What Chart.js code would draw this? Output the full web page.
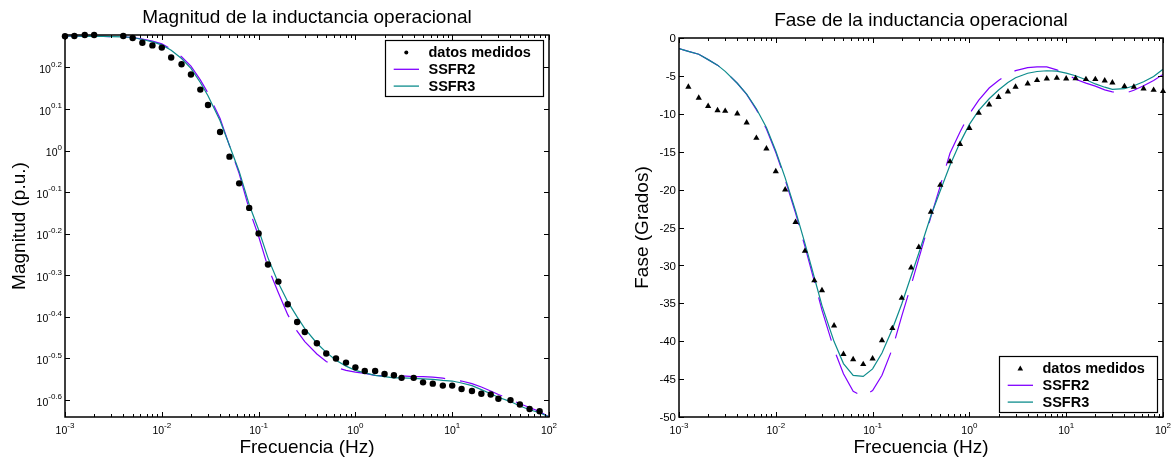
<!DOCTYPE html>
<html>
<head>
<meta charset="utf-8">
<script src="https://cdn.jsdelivr.net/npm/chart.js@4/dist/chart.umd.min.js"></script>
<style>
  html, body { margin: 0; padding: 0; background: #fff; }
  #wrap { position: relative; width: 1174px; height: 459px; }
  canvas { position: absolute; top: 0; }
  #cMag { left: 0; }
  #cFase { left: 587px; }
</style>
</head>
<body>
<div id="wrap">
  <canvas id="cMag" width="587" height="459"></canvas>
  <canvas id="cFase" width="587" height="459"></canvas>
</div>
<script>
// frecuencias (Hz)
var frecuencia = [0.001, 0.00125, 0.0016, 0.002, 0.0025, 0.003, 0.004, 0.005, 0.0063, 0.008,
  0.01, 0.0125, 0.016, 0.02, 0.025, 0.03, 0.04, 0.05, 0.063, 0.08,
  0.1, 0.125, 0.16, 0.2, 0.25, 0.3, 0.4, 0.5, 0.63, 0.8,
  1, 1.25, 1.6, 2, 2.5, 3, 4, 5, 6.3, 8,
  10, 12.5, 16, 20, 25, 30, 40, 50, 63, 80, 100];

// magnitud (p.u.)
var magMedida = [1.884, 1.886, 1.897, 1.897, null, null, 1.886, 1.865, 1.818, 1.791,
  1.769, 1.675, 1.613, 1.524, 1.402, 1.287, 1.108, 0.967, 0.834, 0.728,
  0.632, 0.532, 0.484, 0.427, 0.387, 0.366, 0.344, 0.325, 0.316, 0.309,
  0.301, 0.295, 0.295, 0.290, 0.288, 0.284, 0.284, 0.277, 0.275, 0.272,
  0.272, 0.267, 0.264, 0.260, 0.259, 0.253, 0.251, 0.245, 0.239, 0.236, null];
var magSSFR2 = [1.884, 1.884, 1.883, 1.883, 1.882, 1.880, 1.877, 1.871, 1.854, 1.833,
  1.806, 1.756, 1.681, 1.597, 1.479, 1.375, 1.195, 1.028, 0.880, 0.722,
  0.622, 0.524, 0.455, 0.403, 0.368, 0.347, 0.324, 0.311, 0.301, 0.296,
  0.293, 0.291, 0.288, 0.287, 0.287, 0.287, 0.286, 0.286, 0.285, 0.2835,
  0.281, 0.279, 0.275, 0.270, 0.264, 0.259, 0.252, 0.246, 0.241, 0.2355, 0.2286];
var magSSFR3 = [1.884, 1.884, 1.883, 1.883, 1.882, 1.880, 1.877, 1.871, 1.850, 1.826,
  1.796, 1.744, 1.665, 1.577, 1.458, 1.355, 1.180, 1.029, 0.891, 0.741,
  0.645, 0.552, 0.480, 0.433, 0.398, 0.373, 0.344, 0.327, 0.313, 0.303,
  0.296, 0.292, 0.288, 0.286, 0.284, 0.284, 0.283, 0.2825, 0.2815, 0.280,
  0.279, 0.276, 0.272, 0.266, 0.260, 0.255, 0.249, 0.243, 0.238, 0.234, 0.2286];

// fase (grados)
var faseMedida = [null, -6.46, -7.9, -9.0, -9.55, -9.63, -9.98, -11.17, -13.2, -14.6,
  -17.6, -20.0, -24.3, -28.1, -32.0, -33.3, -37.95, -41.7, -42.4, -43.05,
  -42.3, -39.9, -38.3, -34.3, -30.3, -27.6, -22.95, -19.4, -16.3, -14.0,
  -11.9, -9.9, -8.8, -7.8, -7.08, -6.46, -6.03, -5.58, -5.37, -5.28,
  -5.37, -5.32, -5.45, -5.45, -5.63, -5.9, -6.37, -6.46, -6.69, -6.86, -7.03];
var faseSSFR2 = [-1.41, -1.76, -2.15, -2.85, -3.58, -4.4, -5.97, -7.45, -9.45, -12.0,
  -15.1, -18.7, -23.1, -27.5, -32.1, -35.9, -41.1, -44.3, -46.6, -47.3,
  -46.5, -44.5, -41.0, -36.7, -32.6, -29.1, -23.6, -19.5, -15.2, -12.4,
  -10.0, -8.2, -6.6, -5.6, -4.8, -4.3, -3.9, -3.8, -3.8, -4.2,
  -4.7, -5.45, -5.95, -6.35, -6.85, -7.1, -7.3, -6.9, -6.3, -5.6, -4.8];
var faseSSFR3 = [-1.41, -1.76, -2.15, -2.85, -3.58, -4.4, -5.97, -7.4, -9.33, -11.8,
  -14.9, -18.46, -22.83, -27.09, -31.6, -35.3, -40.05, -42.95, -44.5, -44.65,
  -43.65, -41.55, -38.4, -35.1, -31.4, -28.4, -23.45, -20.15, -16.8, -13.8,
  -11.4, -9.55, -8.02, -6.86, -5.87, -5.24, -4.65, -4.42, -4.32, -4.38,
  -4.63, -4.98, -5.5, -6.06, -6.49, -6.77, -6.69, -6.3, -5.77, -5.08, -4.13];

// marcas de los ejes
var decadas = [0.001, 0.01, 0.1, 1, 10, 100];
var expDecadas = ['-3', '-2', '-1', '0', '1', '2'];
var expMag = ['0.2', '0.1', '0', '-0.1', '-0.2', '-0.3', '-0.4', '-0.5', '-0.6'];
var ticksFase = [0, -5, -10, -15, -20, -25, -30, -35, -40, -45, -50];

var morado = '#8000ff';
var verde = '#0d8c8c';
var fuente = '"Liberation Sans", Arial, Helvetica, sans-serif';
Chart.defaults.font.family = fuente;
Chart.defaults.color = '#000';

function puntos(ys) {
  var out = [];
  for (var i = 0; i < frecuencia.length; i++) {
    if (ys[i] !== null) out.push({ x: frecuencia[i], y: ys[i] });
  }
  return out;
}

function ticksX() {
  var t = [];
  for (var i = 0; i < decadas.length; i++) {
    t.push({ value: decadas[i], major: true, exp: expDecadas[i] });
    if (i < decadas.length - 1) {
      for (var m = 2; m <= 9; m++) t.push({ value: decadas[i] * m, major: false });
    }
  }
  return t;
}

function potencia(ctx, exp, x, yb, centrado) {
  ctx.font = '10.5px ' + fuente;
  var w1 = ctx.measureText('10').width;
  ctx.font = '8px ' + fuente;
  var w2 = ctx.measureText(exp).width;
  var x0 = centrado ? x - (w1 + w2) / 2 : x - w1 - w2;
  ctx.textAlign = 'left';
  ctx.textBaseline = 'alphabetic';
  ctx.font = '10.5px ' + fuente;
  ctx.fillText('10', x0, yb);
  ctx.font = '8px ' + fuente;
  ctx.fillText(exp, x0 + w1, yb - 6.3);
}

function marcador(ctx, tipo, x, y, r) {
  ctx.beginPath();
  if (tipo === 'triangle') {
    ctx.moveTo(x, y - r * 1.1);
    ctx.lineTo(x + r, y + r * 0.7);
    ctx.lineTo(x - r, y + r * 0.7);
    ctx.closePath();
  } else {
    ctx.arc(x, y, r, 0, Math.PI * 2);
  }
  ctx.fill();
}

function leyenda(ctx, chart, op) {
  var a = chart.chartArea, w = 158, h = 56;
  var x0 = Math.round(a.right - 6.5 - w);
  var y0 = Math.round(op.leyenda === 'arriba' ? a.top + 5 : a.bottom - 5 - h);
  ctx.fillStyle = '#fff';
  ctx.fillRect(x0, y0, w, h);
  ctx.strokeStyle = '#000';
  ctx.lineWidth = 1.2;
  ctx.strokeRect(x0 + 0.5, y0 + 0.5, w, h);
  chart.data.datasets.forEach(function(ds, i) {
    var yy = y0 + 12.5 + i * 16.8;
    if (ds.showLine) {
      ctx.strokeStyle = ds.borderColor;
      ctx.lineWidth = 1.3;
      ctx.setLineDash([]);
      ctx.beginPath();
      ctx.moveTo(x0 + 8.7, yy);
      ctx.lineTo(x0 + 34, yy);
      ctx.stroke();
    } else {
      ctx.fillStyle = '#000';
      marcador(ctx, op.marcador, x0 + 21.3, yy, op.marcador === 'triangle' ? 2.8 : 2);
    }
    ctx.fillStyle = '#000';
    ctx.font = 'bold 14.5px ' + fuente;
    ctx.textAlign = 'left';
    ctx.textBaseline = 'middle';
    ctx.fillText(ds.label, x0 + 43.5, yy + 0.5);
  });
}

var marco = {
  id: 'marco',
  afterDraw: function(chart, args, op) {
    var ctx = chart.ctx, a = chart.chartArea, sx = chart.scales.x, sy = chart.scales.y;
    ctx.save();
    ctx.strokeStyle = '#000';
    ctx.fillStyle = '#000';
    ctx.lineWidth = 1;
    ctx.beginPath();
    sx.ticks.forEach(function(t) {
      var px = Math.round(sx.getPixelForValue(t.value)) + 0.5;
      var l = t.major ? 5 : 3;
      ctx.moveTo(px, a.bottom); ctx.lineTo(px, a.bottom - l);
      ctx.moveTo(px, a.top); ctx.lineTo(px, a.top + l);
    });
    sy.ticks.forEach(function(t) {
      var py = Math.round(sy.getPixelForValue(t.value)) + 0.5;
      ctx.moveTo(a.left, py); ctx.lineTo(a.left + 5, py);
      ctx.moveTo(a.right, py); ctx.lineTo(a.right - 5, py);
    });
    ctx.stroke();
    ctx.lineWidth = 1.5;
    ctx.strokeRect(a.left, a.top, a.right - a.left, a.bottom - a.top);

    sx.ticks.forEach(function(t) {
      if (t.major) potencia(ctx, t.exp, sx.getPixelForValue(t.value), a.bottom + 17, true);
    });
    sy.ticks.forEach(function(t) {
      var py = sy.getPixelForValue(t.value);
      if (op.ejeY === 'potencia') {
        potencia(ctx, t.exp, a.left - 3, py + 5.6, false);
      } else {
        ctx.font = '11.5px ' + fuente;
        ctx.textAlign = 'right';
        ctx.textBaseline = 'middle';
        ctx.fillText(String(t.value), a.left - 3, py + 1);
      }
    });
    leyenda(ctx, chart, op);
    ctx.restore();
  }
};

function grafico(id, c) {
  return new Chart(document.getElementById(id), {
    type: 'scatter',
    data: {
      datasets: [
        { label: 'datos medidos', data: puntos(c.medida), showLine: false, pointStyle: c.marcador,
          pointRadius: c.radio, backgroundColor: '#000', borderColor: '#000', borderWidth: 0, order: 0, clip: false },
        { label: 'SSFR2', data: puntos(c.ssfr2), showLine: true, borderColor: morado, borderWidth: 1.2,
          borderDash: [45, 15], pointRadius: 0, tension: 0, order: 2 },
        { label: 'SSFR3', data: puntos(c.ssfr3), showLine: true, borderColor: verde, borderWidth: 1.2,
          pointRadius: 0, tension: 0, order: 1 }
      ]
    },
    options: {
      responsive: false,
      animation: false,
      events: [],
      layout: { padding: { left: 0, right: c.padDer, top: 0, bottom: 0 } },
      plugins: {
        legend: { display: false },
        tooltip: { enabled: false },
        title: { display: true, fullSize: false, text: c.titulo, color: '#000',
          font: { size: 19, weight: 'normal' }, padding: { top: c.tituloArriba, bottom: 5.6 } },
        marco: { ejeY: c.ejeY, leyenda: c.leyenda, marcador: c.marcador }
      },
      scales: {
        x: {
          type: 'logarithmic', min: 0.001, max: 100, bounds: 'data',
          grid: { display: false }, border: { display: false }, ticks: { display: false },
          title: { display: true, text: 'Frecuencia (Hz)', color: '#000', font: { size: 19 }, padding: { top: 0, bottom: 0 } },
          afterBuildTicks: function(s) { s.ticks = ticksX(); },
          afterFit: function(s) { s.height = 42; }
        },
        y: c.escalaY
      }
    },
    plugins: [marco]
  });
}

grafico('cMag', {
  titulo: 'Magnitud de la inductancia operacional',
  medida: magMedida, ssfr2: magSSFR2, ssfr3: magSSFR3,
  marcador: 'circle', radio: 3.2, leyenda: 'arriba', ejeY: 'potencia',
  padDer: 38, tituloArriba: 6.6,
  escalaY: {
    type: 'logarithmic', min: 0.2286, max: 1.897, bounds: 'data',
    grid: { display: false }, border: { display: false }, ticks: { display: false },
    title: { display: true, text: 'Magnitud (p.u.)', color: '#000', font: { size: 19 }, padding: { top: 8.6, bottom: 0 } },
    afterBuildTicks: function(s) {
      s.ticks = expMag.map(function(e) { return { value: Math.pow(10, parseFloat(e)), exp: e }; });
    },
    afterFit: function(s) { s.width = 65; }
  }
});

grafico('cFase', {
  titulo: 'Fase de la inductancia operacional',
  medida: faseMedida, ssfr2: faseSSFR2, ssfr3: faseSSFR3,
  marcador: 'triangle', radio: 3.6, leyenda: 'abajo', ejeY: 'lineal',
  padDer: 11, tituloArriba: 9.6,
  escalaY: {
    type: 'linear', min: -50, max: 0, bounds: 'data',
    grid: { display: false }, border: { display: false }, ticks: { display: false },
    title: { display: true, text: 'Fase (Grados)', color: '#000', font: { size: 19 }, padding: { top: 44.8, bottom: 0 } },
    afterBuildTicks: function(s) {
      s.ticks = ticksFase.map(function(v) { return { value: v }; });
    },
    afterFit: function(s) { s.width = 92; }
  }
});
</script>
</body>
</html>
